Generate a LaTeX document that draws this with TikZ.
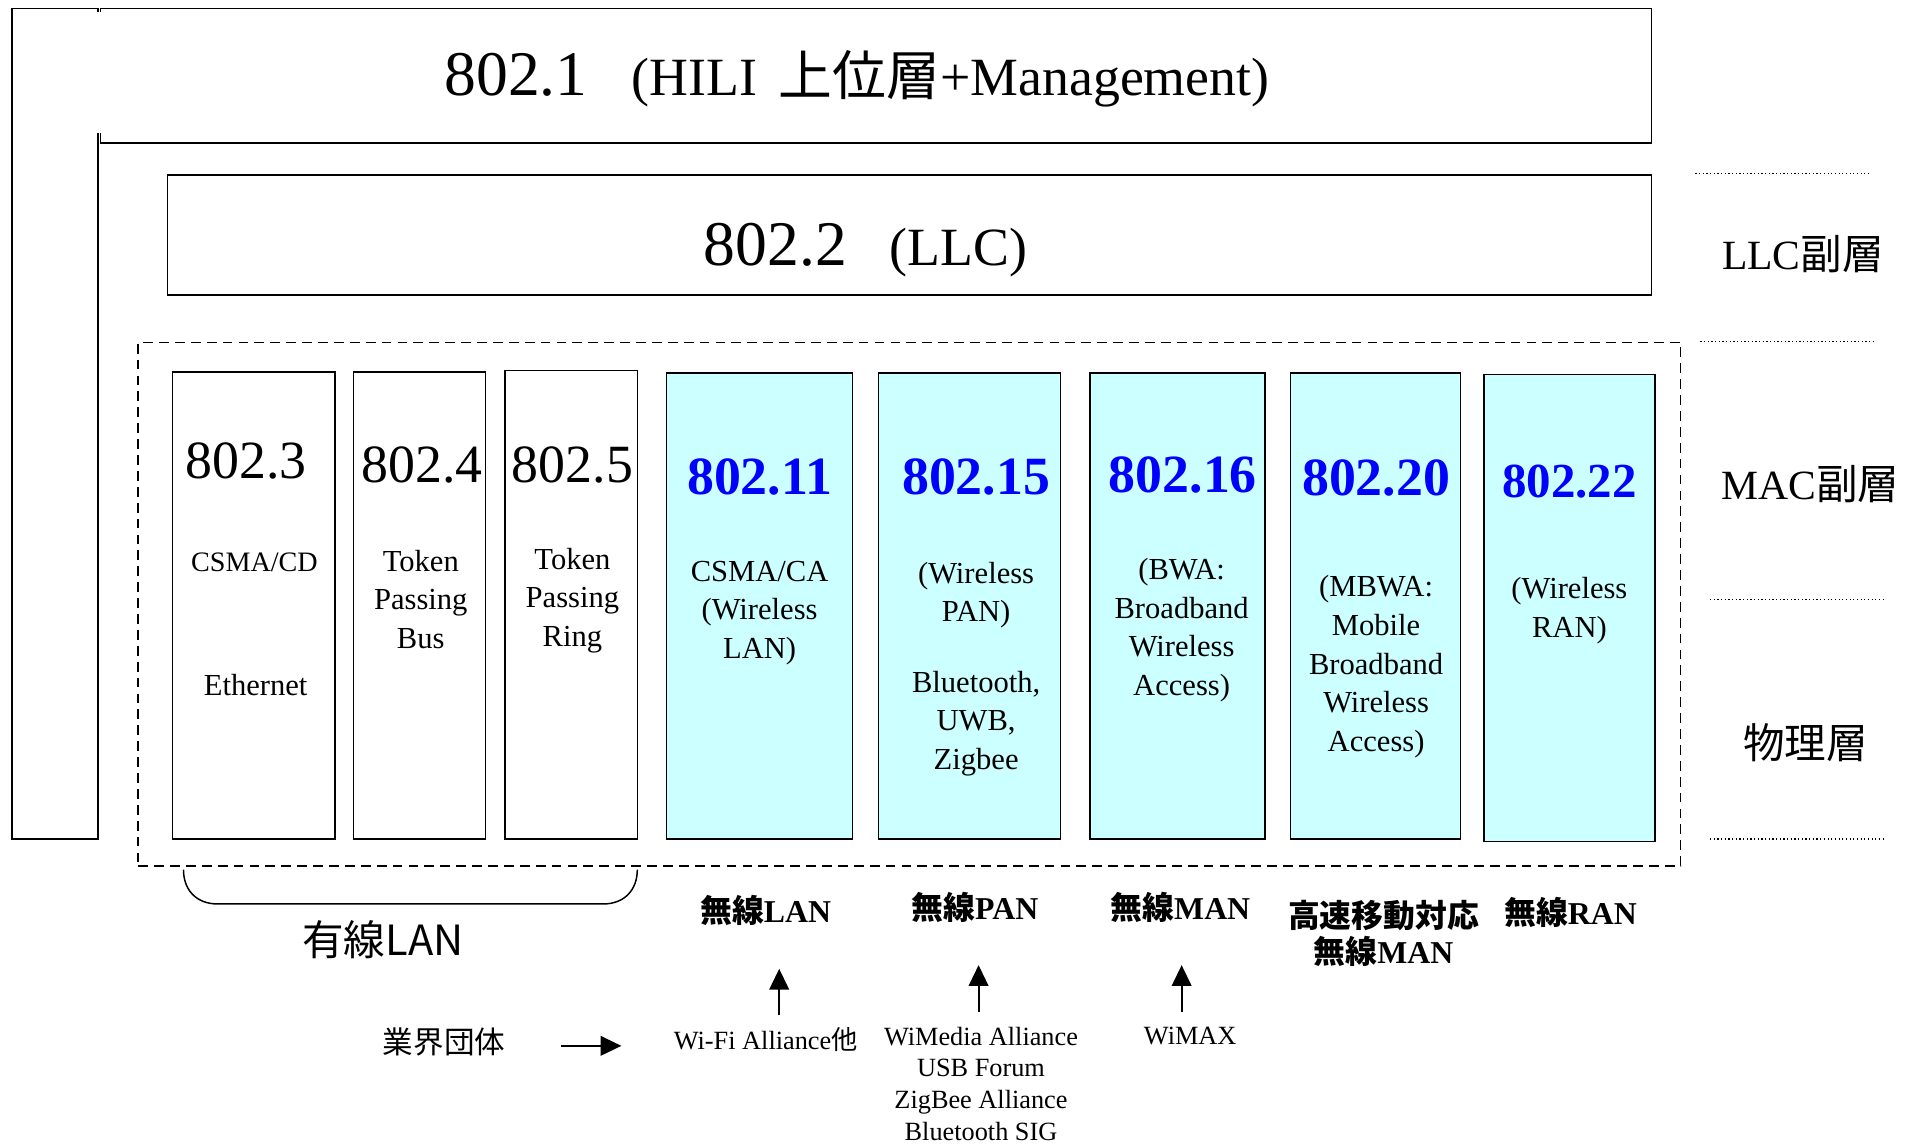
\documentclass[tikz,border=0pt]{standalone}
\usepackage{fontspec}
\setmainfont{Liberation Serif}
\newfontfamily\jp{Noto Sans CJK JP}
\usetikzlibrary{arrows.meta,fit}
\definecolor{lightcyan}{RGB}{204,255,255}
\definecolor{numblue}{RGB}{0,0,255}
\newcommand\fsz[2]{\fontsize{#1}{#2}\selectfont}
\begin{document}
\begin{tikzpicture}[x=0.5pt,y=-0.5pt,
  line/.style={draw, line width=0.6pt},
  wbox/.style={draw, line width=0.6pt, inner sep=0pt, fill=white},
  cbox/.style={wbox, fill=lightcyan},
  dbox/.style={draw, line width=0.6pt, inner sep=0pt, dash pattern=on 4pt off 2.5pt},
  bignum/.style={font=\fsz{26pt}{30pt}, inner sep=0pt},
  biglab/.style={font=\fsz{22pt}{25pt}, inner sep=0pt},
  num/.style={font=\fsz{22pt}{26pt}, inner sep=0pt},
  bnum/.style={font=\bfseries\fsz{22pt}{26pt}, text=numblue, inner sep=0pt},
  body/.style={font=\fsz{12.5pt}{15.75pt}, align=center, inner sep=0pt},
  side/.style={font=\fsz{17pt}{20pt}, inner sep=0pt},
  blab/.style={font=\bfseries\fsz{13pt}{15pt}, align=center, inner sep=0pt},
  small/.style={font=\fsz{10.75pt}{13pt}, align=center, inner sep=0pt},
  dotline/.style={line width=0.6pt, dash pattern=on 0.5pt off 1pt},
  arr/.style={line width=0.8pt, -{Triangle[length=8.5pt,width=8pt]}}]
\useasboundingbox (0,0) rectangle (1568,935);

% 802.1 (left column + top box)
\draw[line, fill=white] (10,7) rectangle (80,686);
\node[wbox, fit={(82,7) (1350,117)}] (hili) {};
\fill[white] (79,9.5) rectangle (83.5,109);
\node[bignum, anchor=base west] (t1) at (363,78) {802.1};
\node[biglab, anchor=base west] (t1b) at (516,78) {(HILI\hspace{0.4em}{\jp 上位層}+Management)};

% 802.2
\node[wbox, fit={(137,143) (1350,241)}] (llc) {};
\node[bignum, anchor=base west] (t2) at (575,217) {802.2};
\node[biglab, anchor=base west] (t2b) at (727,217) {(LLC)};

% MAC / PHY dashed frame
\node[dbox, fit={(113,280) (1374,708)}] (macphy) {};

% wired boxes
\node[wbox, fit={(141,304) (274,686)}] (b3) {};
\node[wbox, fit={(289,304) (397,686)}] (b4) {};
\node[wbox, fit={(413,303) (521,686)}] (b5) {};
% wireless boxes
\node[cbox, fit={(545,305) (697,686)}] (b11) {};
\node[cbox, fit={(718,305) (867,686)}] (b15) {};
\node[cbox, fit={(891,305) (1034,686)}] (b16) {};
\node[cbox, fit={(1055,305) (1194,686)}] (b20) {};
\node[cbox, fit={(1213,306) (1353,688)}] (b22) {};

% texts in wired boxes
\node[num] (n3) at (201,377) {802.3};
\node[font=\fsz{11.5pt}{14pt}, inner sep=0pt] (c3) at (208,460) {CSMA/CD};
\node[body] (e3) at (209,560) {Ethernet};
\node[num] (n4) at (345,380) {802.4};
\node[body] (c4) at (344,490) {Token\\Passing\\Bus};
\node[num] (n5) at (468,380) {802.5};
\node[body] (c5) at (468,491) {Token\\Passing\\Ring};

% texts in wireless boxes
\node[bnum] (n11) at (621,390) {802.11};
\node[body] (c11) at (621,501) {CSMA/CA\\(Wireless\\LAN)};
\node[bnum] (n15) at (798,390) {802.15};
\node[body] (c15) at (798,547) {(Wireless\\PAN)\\[13pt]Bluetooth,\\UWB,\\Zigbee};
\node[bnum] (n16) at (967,388) {802.16};
\node[body] (c16) at (966,515) {(BWA:\\Broadband\\Wireless\\Access)};
\node[bnum] (n20) at (1125,391) {802.20};
\node[body] (c20) at (1125,545) {(MBWA:\\Mobile\\Broadband\\Wireless\\Access)};
\node[bnum, font=\bfseries\fsz{20pt}{24pt}] (n22) at (1283,394) {802.22};
\node[body] (c22) at (1283,499) {(Wireless\\RAN)};

% right side layer labels
\draw[dotline] (1386,142) -- (1528,142);
\draw[dotline] (1390,279) -- (1533,279);
\draw[dotline] (1398,490) -- (1540,490);
\draw[dotline] (1398,686) -- (1540,686);
\node[side] (llcsub) at (1474,208) {LLC{\jp 副層}};
\node[side] (macsub) at (1480,396) {MAC{\jp 副層}};
\node[side] (phy) at (1476,607) {\jp 物理層};

% wired LAN brace
\draw[line] (150,711) .. controls (150,727) and (160,739) .. (178,739) -- (493,739)
  .. controls (511,739) and (521,727) .. (521,711);
\node[side, font=\jp\fsz{17pt}{20pt}] (wired) at (313,768) {有線LAN};

% bottom category labels
\node[blab] (wlan) at (626,744) {{\jp\bfseries 無線}LAN};
\node[blab] (wpan) at (797,742) {{\jp\bfseries 無線}PAN};
\node[blab] (wman) at (965,742) {{\jp\bfseries 無線}MAN};
\node[blab] (mbwa) at (1131,763) {{\jp\bfseries 高速移動対応}\\{\jp\bfseries 無線}MAN};
\node[blab] (wran) at (1284,746) {{\jp\bfseries 無線}RAN};

% industry groups
\node[font=\jp\fsz{12.5pt}{15pt}, inner sep=0pt] (ind) at (363,852) {業界団体};
\node[small] (wifi) at (626,850) {Wi-Fi Alliance{\jp 他}};
\node[small] (wimedia) at (802,886) {WiMedia Alliance\\USB Forum\\ZigBee Alliance\\Bluetooth SIG};
\node[small] (wimax) at (973,847) {WiMAX};

\coordinate (r0) at (459,855);
\coordinate (r1) at (508,855);
\coordinate (a1s) at (637,830);
\coordinate (a1e) at (637,792);
\coordinate (a2s) at (800,827);
\coordinate (a2e) at (800,789);
\coordinate (a3s) at (966,827);
\coordinate (a3e) at (966,789);
\draw[arr] (r0) -- (r1);
\draw[arr] (a1s) -- (a1e);
\draw[arr] (a2s) -- (a2e);
\draw[arr] (a3s) -- (a3e);
\end{tikzpicture}
\end{document}
